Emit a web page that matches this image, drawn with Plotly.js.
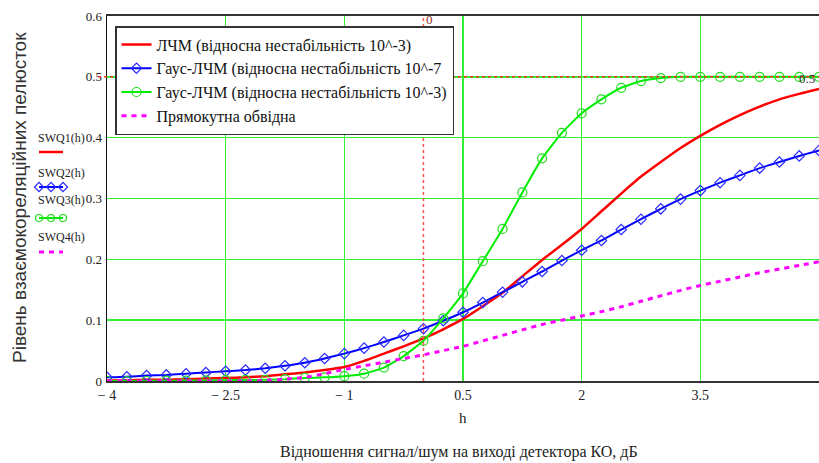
<!DOCTYPE html>
<html>
<head>
<meta charset="utf-8">
<script src="https://cdn.plot.ly/plotly-3.0.1.min.js"></script>
<style>html,body{margin:0;padding:0;background:#fff;overflow:hidden;}#chart{width:819px;height:463px;}</style>
</head>
<body>
<div id="chart"></div>
<script>
// h values (signal/noise)
const h = [-4,-3.75,-3.5,-3.25,-3,-2.75,-2.5,-2.25,-2,-1.75,-1.5,-1.25,-1,-0.75,-0.5,-0.25,0,0.25,0.5,0.75,1,1.25,1.5,1.75,2,2.25,2.5,2.75,3,3.25,3.5,3.75,4,4.25,4.5,4.75,5];
// SWQ1: ЛЧМ (10^-3)
const swq1 = [0.001,0.001,0.002,0.002,0.003,0.004,0.005,0.006,0.008,0.011,0.014,0.018,0.023,0.033,0.045,0.057,0.07,0.085,0.102,0.123,0.145,0.172,0.199,0.224,0.25,0.279,0.308,0.336,0.36,0.383,0.403,0.421,0.437,0.451,0.463,0.472,0.48];
// SWQ2: Гаус-ЛЧМ (10^-7)
const swq2 = [0.006,0.007,0.009,0.010,0.012,0.014,0.016,0.018,0.021,0.025,0.030,0.037,0.045,0.054,0.064,0.075,0.086,0.099,0.113,0.129,0.146,0.163,0.180,0.198,0.215,0.231,0.249,0.266,0.283,0.299,0.313,0.326,0.338,0.35,0.36,0.37,0.379];
// SWQ3: Гаус-ЛЧМ (10^-3)
const swq3 = [0,0,0,0.0005,0.0007,0.001,0.0013,0.0017,0.002,0.003,0.005,0.006,0.008,0.012,0.022,0.041,0.066,0.103,0.144,0.197,0.25,0.31,0.366,0.408,0.44,0.463,0.482,0.493,0.498,0.5,0.5,0.5,0.5,0.5,0.5,0.5,0.5];
// SWQ4: Прямокутна обвідна
const swq4 = [0,0,0,0,0,0,0,0,0.001,0.003,0.006,0.012,0.019,0.025,0.031,0.037,0.043,0.05,0.057,0.066,0.075,0.084,0.093,0.1,0.107,0.114,0.122,0.131,0.14,0.149,0.157,0.164,0.171,0.178,0.184,0.19,0.196];

const seriesNames = ["ЛЧМ (відносна нестабільність 10^-3)","Гаус-ЛЧМ (відносна нестабільність 10^-7","Гаус-ЛЧМ (відносна нестабільність 10^-3)","Прямокутна обвідна"];
const keyNames = ["SWQ1(h)","SWQ2(h)","SWQ3(h)","SWQ4(h)"];
const xTickVals = [-4,-2.5,-1,0.5,2,3.5];
const xTickText = ["\u2212 4","\u2212 2.5","\u2212 1","0.5","2","3.5"];
const yTickVals = [0,0.1,0.2,0.3,0.4,0.5,0.6];
const yTickText = ["0","0.1","0.2","0.3","0.4","0.5","0.6"];
const markerH = 0;     // vertical marker position
const markerY = 0.5;   // horizontal marker position

const serif = "'Liberation Serif', 'DejaVu Serif', serif";
const styles = [
  {line:{color:"#ff0000", width:2.5, shape:"spline", smoothing:0.5}, mode:"lines"},
  {line:{color:"#0000ff", width:2, shape:"spline", smoothing:0.5}, mode:"lines+markers", marker:{symbol:"diamond-open", size:8, color:"#2a2aff", line:{width:1.2}}},
  {line:{color:"#00ee00", width:2, shape:"spline", smoothing:0.4}, mode:"lines+markers", marker:{symbol:"circle-open", size:9, color:"#22dd22", line:{width:1.2}}},
  {line:{color:"#ff00ff", width:3, dash:"5px,5px", shape:"spline", smoothing:0.5}, mode:"lines"}
];
const ys = [swq1, swq2, swq3, swq4];
const traces = ys.map((y,i)=>Object.assign({x:h, y:y, name:seriesNames[i], type:"scatter", line:styles[i].line, mode:styles[i].mode, hoverinfo:"skip"}, styles[i].marker?{marker:styles[i].marker}:{}));

// Mathcad-style trace keys at the left (decoration, pixel-like axes)
const keyRows = [152, 187, 218, 252];
const keyTraces = keyRows.map((yy,i)=>Object.assign({
  x:[39,51,63], y:[yy,yy,yy], xaxis:"x2", yaxis:"y2", type:"scatter", showlegend:false, hoverinfo:"skip",
  mode:styles[i].mode, line:Object.assign({}, styles[i].line, {shape:"linear"})
}, styles[i].marker?{marker:Object.assign({}, styles[i].marker, {size:7})}:{}));

const keyLabels = [138,173,200,237].map((yy,i)=>({
  xref:"x2", yref:"y2", x:36, y:yy, xanchor:"left", yanchor:"middle", showarrow:false,
  text:keyNames[i], font:{family:serif, size:12, color:"#222"}
}));

const layout = {
  width:819, height:463,
  font:{family:serif, size:14, color:"#222"},
  margin:{l:0, r:0, t:16, b:82, pad:0},
  paper_bgcolor:"#fff", plot_bgcolor:"#fff",
  showlegend:true,
  legend:{x:115/819, y:(381-26)/365, xanchor:"left", yanchor:"top", bgcolor:"#fff", bordercolor:"#333", borderwidth:1.5,
          font:{family:serif, size:16, color:"#111"}, tracegroupgap:0},
  xaxis:{domain:[107/819,1], range:[-4,5], tickvals:xTickVals, ticktext:xTickText,
         showgrid:true, gridcolor:"#33ee33", gridwidth:1.5, zeroline:false,
         showline:true, linecolor:"#333", linewidth:2, mirror:true, ticks:"",
         tickfont:{family:serif, size:14, color:"#222"}},
  yaxis:{range:[0,0.6], tickvals:yTickVals, ticktext:yTickText,
         showgrid:true, gridcolor:"#33ee33", gridwidth:1.5, zeroline:false,
         showline:true, linecolor:"#111", linewidth:1.5, ticks:"", ticklabelstandoff:1,
         tickfont:{family:serif, size:13, color:"#222"}},
  xaxis2:{domain:[0,100/819], range:[0,100], visible:false, fixedrange:true},
  yaxis2:{domain:[0,1], range:[381,16], visible:false, anchor:"x2", fixedrange:true},
  shapes:[
    {type:"line", xref:"x", yref:"paper", x0:markerH, x1:markerH, y0:0, y1:1, line:{color:"#ff5050", width:1.5, dash:"3px,3px"}, layer:"above"},
    {type:"line", xref:"paper", yref:"y", x0:98/819, x1:1, y0:markerY, y1:markerY, line:{color:"#ff3030", width:1.5, dash:"3px,3px"}, layer:"above"}
  ],
  annotations:[
    {xref:"x", yref:"paper", x:markerH, y:(381-20)/365, xanchor:"left", yanchor:"middle", xshift:1, showarrow:false, text:"0", font:{family:serif, size:13, color:"#8b3030"}},
    {xref:"paper", yref:"y", x:1, y:markerY, xanchor:"right", yanchor:"middle", xshift:-2, yshift:-2, showarrow:false, text:"0.5", font:{family:serif, size:13, color:"#333"}},
    {xref:"paper", yref:"paper", x:463/819, y:(381-418)/365, xanchor:"center", yanchor:"middle", showarrow:false, text:"h", font:{family:serif, size:15, color:"#222"}},
    {xref:"paper", yref:"paper", x:459/819, y:(381-452)/365, xanchor:"center", yanchor:"middle", showarrow:false, text:"Відношення сигнал/шум на виході детектора КО, дБ", font:{family:serif, size:16, color:"#222"}},
    {xref:"paper", yref:"paper", x:20/819, y:(381-198)/365, xanchor:"center", yanchor:"middle", textangle:-90, showarrow:false, text:"Рівень взаємокореляційних пелюсток", font:{family:"'Liberation Sans', sans-serif", size:19, color:"#333"}}
  ].concat(keyLabels)
};

Plotly.newPlot("chart", traces.concat(keyTraces), layout, {staticPlot:true, displayModeBar:false});
</script>
</body>
</html>
